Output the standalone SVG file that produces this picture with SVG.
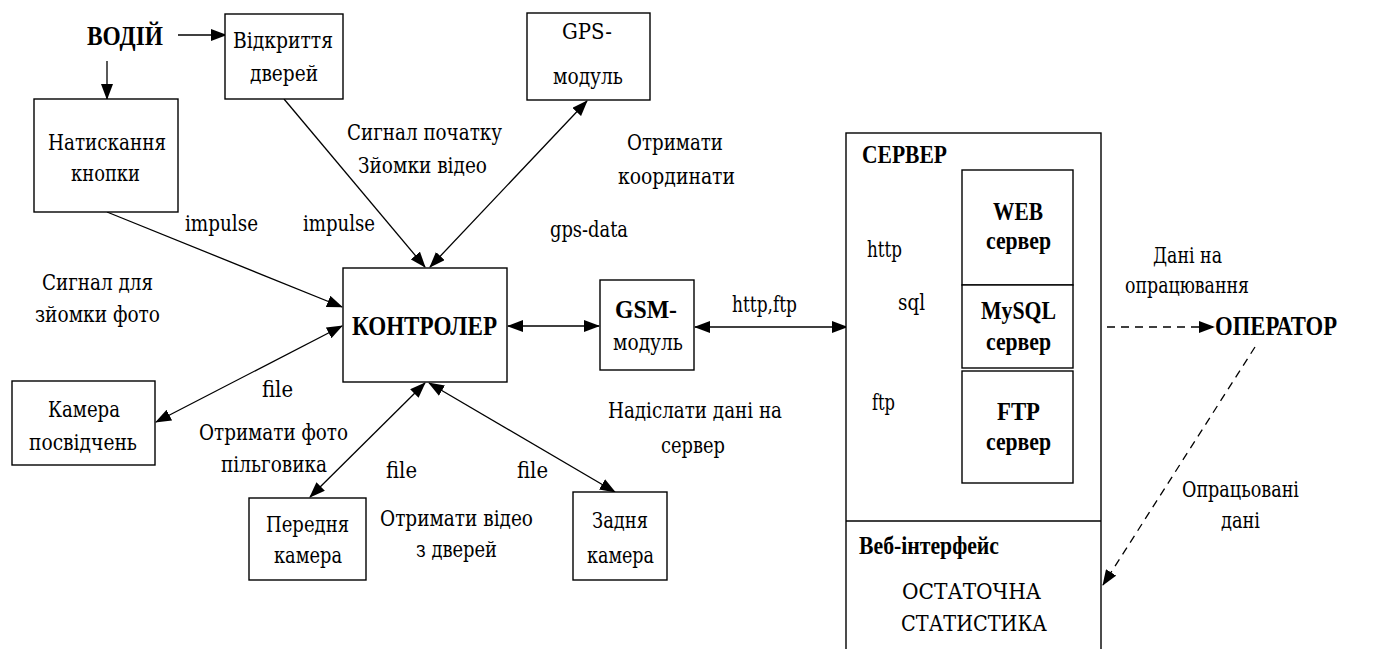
<svg xmlns="http://www.w3.org/2000/svg" width="1381" height="649" viewBox="0 0 1381 649">
<defs>
<marker id="ah" markerWidth="16" markerHeight="12" refX="15" refY="6" orient="auto-start-reverse" markerUnits="userSpaceOnUse">
<path d="M0,0 L16,6 L0,12 Z" fill="#000"/>
</marker>
<style>
.t{font-family:"DejaVu Serif",serif;font-size:22px;fill:#000}
.b{font-family:"Liberation Serif","DejaVu Serif",serif;font-size:25px;font-weight:bold;fill:#000}
.bb{font-family:"Liberation Serif","DejaVu Serif",serif;font-size:28px;font-weight:bold;fill:#000}
.box{fill:#fff;stroke:#000;stroke-width:1.4}
.ln{stroke:#000;stroke-width:1.3;fill:none}
.one{marker-end:url(#ah)}
.two{marker-start:url(#ah);marker-end:url(#ah)}
.dash{stroke-dasharray:8,6}
</style>
</defs>
<rect width="1381" height="649" fill="#fff"/>

<g id="connectors">
<line class="ln one" x1="178" y1="35" x2="226" y2="35"/>
<line class="ln one" x1="107" y1="61" x2="107" y2="99"/>
<line class="ln one" x1="107" y1="212" x2="342" y2="307"/>
<line class="ln one" x1="284" y1="99" x2="425" y2="267"/>
<line class="ln two" x1="430" y1="267" x2="587" y2="101"/>
<line class="ln two" x1="156" y1="422" x2="342" y2="326"/>
<line class="ln two" x1="425" y1="383" x2="310" y2="497"/>
<line class="ln two" x1="429" y1="383" x2="615" y2="492"/>
<line class="ln two" x1="508" y1="326" x2="599" y2="326"/>
<line class="ln two" x1="695" y1="327" x2="847" y2="327"/>
<line class="ln two" x1="848" y1="326" x2="962" y2="228"/>
<line class="ln two" x1="848" y1="327" x2="962" y2="327"/>
<line class="ln two" x1="848" y1="328" x2="962" y2="427"/>
<line class="ln one dash" x1="1107" y1="327" x2="1214" y2="327"/>
<line class="ln one dash" x1="1255" y1="347" x2="1103" y2="585"/>
</g>

<g id="vodiy"><text class="bb" x="87" y="45" textLength="76" lengthAdjust="spacingAndGlyphs">ВОДІЙ</text></g>

<g id="vidkryttia">
<rect class="box" x="225" y="14" width="118" height="85"/>
<text class="t" x="233" y="48" textLength="100" lengthAdjust="spacingAndGlyphs">Відкриття</text>
<text class="t" x="250" y="81" textLength="68" lengthAdjust="spacingAndGlyphs">дверей</text>
</g>

<g id="gps">
<rect class="box" x="527" y="13" width="123" height="87"/>
<text class="t" x="562" y="39" textLength="50" lengthAdjust="spacingAndGlyphs">GPS-</text>
<text class="t" x="553" y="84" textLength="70" lengthAdjust="spacingAndGlyphs">модуль</text>
</g>

<g id="knopka">
<rect class="box" x="34" y="99" width="144" height="113"/>
<text class="t" x="48" y="150" textLength="118" lengthAdjust="spacingAndGlyphs">Натискання</text>
<text class="t" x="71" y="181" textLength="69" lengthAdjust="spacingAndGlyphs">кнопки</text>
</g>

<g id="controller">
<rect class="box" x="343" y="268" width="164" height="114"/>
<text class="bb" x="352" y="335" textLength="145" lengthAdjust="spacingAndGlyphs">КОНТРОЛЕР</text>
</g>

<g id="gsm">
<rect class="box" x="600" y="280" width="94" height="90"/>
<text class="b" x="615" y="318" textLength="62" lengthAdjust="spacingAndGlyphs">GSM-</text>
<text class="t" x="613" y="350" textLength="70" lengthAdjust="spacingAndGlyphs">модуль</text>
</g>

<g id="kamera-posvidchen">
<rect class="box" x="12" y="381" width="143" height="84"/>
<text class="t" x="48" y="417" textLength="72" lengthAdjust="spacingAndGlyphs">Камера</text>
<text class="t" x="29" y="450" textLength="108" lengthAdjust="spacingAndGlyphs">посвідчень</text>
</g>

<g id="perednia">
<rect class="box" x="249" y="498" width="117" height="82"/>
<text class="t" x="266" y="532" textLength="83" lengthAdjust="spacingAndGlyphs">Передня</text>
<text class="t" x="274" y="563" textLength="68" lengthAdjust="spacingAndGlyphs">камера</text>
</g>

<g id="zadnia">
<rect class="box" x="573" y="492" width="94" height="88"/>
<text class="t" x="592" y="528" textLength="56" lengthAdjust="spacingAndGlyphs">Задня</text>
<text class="t" x="587" y="563" textLength="67" lengthAdjust="spacingAndGlyphs">камера</text>
</g>

<g id="server">
<rect class="box" x="846" y="133" width="255" height="530"/>
<line class="ln" x1="846" y1="521" x2="1101" y2="521"/>
<text class="b" x="862" y="163" textLength="85" lengthAdjust="spacingAndGlyphs">СЕРВЕР</text>
<text class="b" x="859" y="554" textLength="140" lengthAdjust="spacingAndGlyphs">Веб-інтерфейс</text>
<text class="t" x="902" y="599" textLength="139" lengthAdjust="spacingAndGlyphs">ОСТАТОЧНА</text>
<text class="t" x="901" y="631" textLength="146" lengthAdjust="spacingAndGlyphs">СТАТИСТИКА</text>
</g>

<g id="web">
<rect class="box" x="962" y="170" width="111" height="115"/>
<text class="b" x="993" y="220" textLength="50" lengthAdjust="spacingAndGlyphs">WEB</text>
<text class="b" x="986" y="249" textLength="65" lengthAdjust="spacingAndGlyphs">сервер</text>
</g>

<g id="mysql">
<rect class="box" x="962" y="285" width="111" height="83"/>
<text class="b" x="981" y="319" textLength="75" lengthAdjust="spacingAndGlyphs">MySQL</text>
<text class="b" x="986" y="350" textLength="65" lengthAdjust="spacingAndGlyphs">сервер</text>
</g>

<g id="ftp">
<rect class="box" x="962" y="371" width="111" height="112"/>
<text class="b" x="997" y="420" textLength="43" lengthAdjust="spacingAndGlyphs">FTP</text>
<text class="b" x="986" y="450" textLength="65" lengthAdjust="spacingAndGlyphs">сервер</text>
</g>

<g id="operator"><text class="bb" x="1215" y="335" textLength="122" lengthAdjust="spacingAndGlyphs">ОПЕРАТОР</text></g>

<g id="labels">
<text class="t" x="347" y="140" textLength="155" lengthAdjust="spacingAndGlyphs">Сигнал початку</text>
<text class="t" x="358" y="173" textLength="129" lengthAdjust="spacingAndGlyphs">Зйомки відео</text>
<text class="t" x="627" y="150" textLength="96" lengthAdjust="spacingAndGlyphs">Отримати</text>
<text class="t" x="618" y="184" textLength="117" lengthAdjust="spacingAndGlyphs">координати</text>
<text class="t" x="185" y="231" textLength="73" lengthAdjust="spacingAndGlyphs">impulse</text>
<text class="t" x="303" y="231" textLength="72" lengthAdjust="spacingAndGlyphs">impulse</text>
<text class="t" x="550" y="237" textLength="78" lengthAdjust="spacingAndGlyphs">gps-data</text>
<text class="t" x="42" y="290" textLength="111" lengthAdjust="spacingAndGlyphs">Сигнал для</text>
<text class="t" x="35" y="322" textLength="125" lengthAdjust="spacingAndGlyphs">зйомки фото</text>
<text class="t" x="262" y="397" textLength="31" lengthAdjust="spacingAndGlyphs">file</text>
<text class="t" x="199" y="440" textLength="149" lengthAdjust="spacingAndGlyphs">Отримати фото</text>
<text class="t" x="221" y="472" textLength="106" lengthAdjust="spacingAndGlyphs">пільговика</text>
<text class="t" x="386" y="478" textLength="31" lengthAdjust="spacingAndGlyphs">file</text>
<text class="t" x="517" y="478" textLength="31" lengthAdjust="spacingAndGlyphs">file</text>
<text class="t" x="380" y="526" textLength="153" lengthAdjust="spacingAndGlyphs">Отримати відео</text>
<text class="t" x="416" y="557" textLength="81" lengthAdjust="spacingAndGlyphs">з дверей</text>
<text class="t" x="732" y="312" textLength="65" lengthAdjust="spacingAndGlyphs">http,ftp</text>
<text class="t" x="608" y="418" textLength="174" lengthAdjust="spacingAndGlyphs">Надіслати дані на</text>
<text class="t" x="661" y="453" textLength="64" lengthAdjust="spacingAndGlyphs">сервер</text>
<text class="t" x="867" y="257" textLength="35" lengthAdjust="spacingAndGlyphs">http</text>
<text class="t" x="898" y="310" textLength="27" lengthAdjust="spacingAndGlyphs">sql</text>
<text class="t" x="872" y="410" textLength="23" lengthAdjust="spacingAndGlyphs">ftp</text>
<text class="t" x="1153" y="263" textLength="69" lengthAdjust="spacingAndGlyphs">Дані на</text>
<text class="t" x="1125" y="293" textLength="124" lengthAdjust="spacingAndGlyphs">опрацювання</text>
<text class="t" x="1182" y="497" textLength="117" lengthAdjust="spacingAndGlyphs">Опрацьовані</text>
<text class="t" x="1221" y="528" textLength="39" lengthAdjust="spacingAndGlyphs">дані</text>
</g>
</svg>
